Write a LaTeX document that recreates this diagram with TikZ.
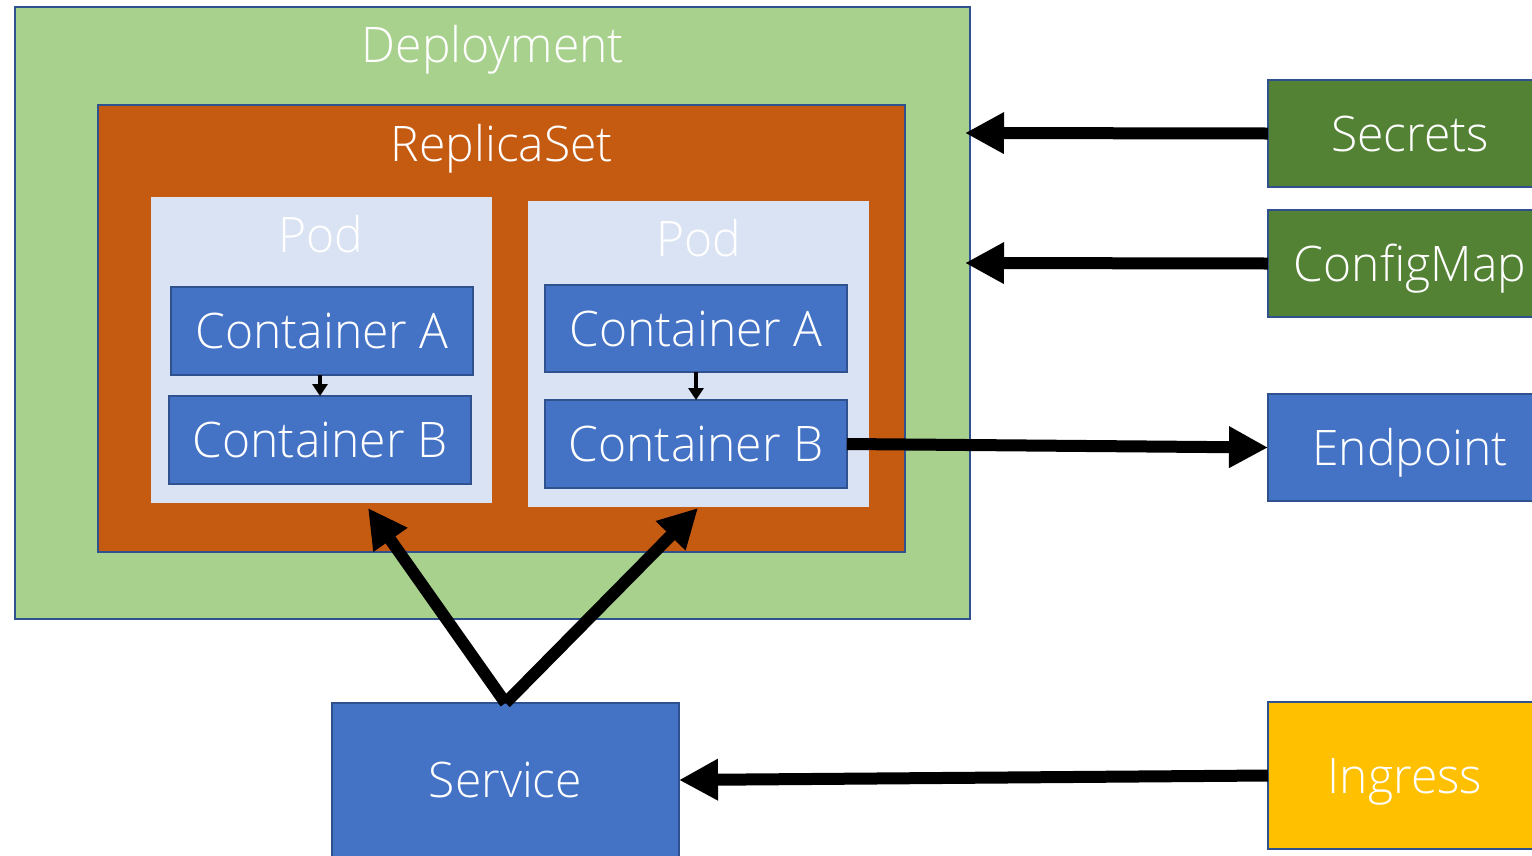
\documentclass[tikz,border=0pt]{standalone}
\usepackage{fontspec}
\setmainfont{Open Sans Light}[FakeStretch=0.98]
\usetikzlibrary{arrows.meta,calc}

\definecolor{edge}{HTML}{2F528F}
\definecolor{depgreen}{HTML}{A9D18E}
\definecolor{rsorange}{HTML}{C55A11}
\definecolor{podblue}{HTML}{DAE3F3}
\definecolor{boxblue}{HTML}{4472C4}
\definecolor{cfggreen}{HTML}{548235}
\definecolor{ingyellow}{HTML}{FFC000}

\begin{document}
\begin{tikzpicture}[x=1pt,y=-1pt,
  lbl/.style={font=\fontsize{49}{58}\selectfont, text=white},
  frame/.style={anchor=north west, inner sep=0pt, outer sep=0pt},
  blk/.style={frame, draw=edge, line width=2pt, lbl, text height=35pt, text depth=0pt},
  title/.style={lbl, anchor=base, inner sep=0pt},
  bigarrow/.style={line width=12pt, -{Triangle[length=39pt,width=39pt]}},
  smallarrow/.style={line width=3.5pt, -{Triangle[length=12pt,width=15pt]}}]

\useasboundingbox (0,0) rectangle (1532,855);
\clip (0,0) rectangle (1532,855);

% nested Kubernetes objects
\node[frame, draw=edge, line width=2pt, fill=depgreen, minimum width=955pt, minimum height=612pt] (dep) at (15,7) {};
\node[title, text=white] (deplbl) at (493,62) {Deployment};

\node[frame, draw=edge, line width=2pt, fill=rsorange, minimum width=807pt, minimum height=447pt] (rs) at (98,105) {};
\node[title] (rslbl) at (502,161) {ReplicaSet};

\node[frame, fill=podblue, minimum width=341pt, minimum height=306pt] (pod1) at (151,197) {};
\node[title] (pod1lbl) at (321,252) {Pod};
\node[frame, fill=podblue, minimum width=341pt, minimum height=306pt] (pod2) at (528,201) {};
\node[title] (pod2lbl) at (699,256) {Pod};

\node[blk, fill=boxblue, minimum width=302pt, minimum height=88pt] (ca1) at (171,287) {Container A};
\node[blk, fill=boxblue, minimum width=302pt, minimum height=88pt] (cb1) at (169,396) {Container B};
\node[blk, fill=boxblue, minimum width=302pt, minimum height=87pt] (ca2) at (545,285) {Container A};
\node[blk, fill=boxblue, minimum width=302pt, minimum height=88pt] (cb2) at (545,400) {Container B};

% objects outside the deployment
\node[blk, fill=cfggreen, minimum width=284pt, minimum height=107pt] (sec) at (1268,80) {Secrets};
\node[blk, fill=cfggreen, minimum width=284pt, minimum height=107pt] (cfg) at (1268,210) {ConfigMap};
\node[blk, fill=boxblue, minimum width=284pt, minimum height=107pt] (ep) at (1268,394) {Endpoint};
\node[blk, fill=ingyellow, minimum width=274pt, minimum height=147pt] (ing) at (1268,702) {Ingress};
\node[blk, fill=boxblue, minimum width=347pt, minimum height=154pt] (svc) at (332,703) {Service};

% free ends of connectors
\coordinate (secin) at (965,133);
\coordinate (cfgin) at (965,263);
\coordinate (pod1in) at (368,508);
\coordinate (pod2in) at (698,508);

% connectors
\draw[smallarrow] (ca1.south -| cb1.north) -- (cb1.north);
\draw[smallarrow] (ca2.south) -- (cb2.north);
\draw[bigarrow] (sec.west) -- (secin);
\draw[bigarrow] (cfg.west) -- (cfgin);
\draw[bigarrow] (cb2.east) -- (ep.west);
\draw[bigarrow] (ing.west) -- (svc.east);
\draw[bigarrow] (svc.north) -- (pod1in);
\draw[bigarrow] (svc.north) -- (pod2in);
\end{tikzpicture}
\end{document}
